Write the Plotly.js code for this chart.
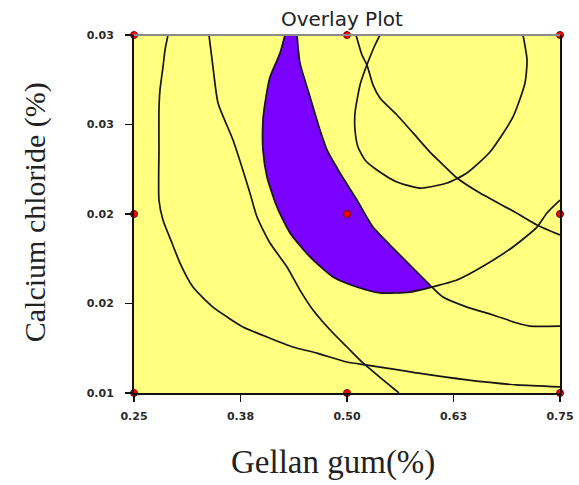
<!DOCTYPE html>
<html>
<head>
<meta charset="utf-8">
<script src="https://cdn.plot.ly/plotly-3.0.1.min.js"></script>
<style>html,body{margin:0;padding:0;background:#fff;}#chart{width:579px;height:485px;}</style>
</head>
<body>
<div id="chart"></div>
<script>
// Axis ticks
const xTickVals = [0.25, 0.375, 0.5, 0.625, 0.75];
const xTickText = ["0.25", "0.38", "0.50", "0.63", "0.75"];
const yTickVals = [0.01, 0.015, 0.02, 0.025, 0.03];
const yTickText = ["0.01", "0.02", "0.02", "0.03", "0.03"];

// Design points (Gellan gum %, Calcium chloride %)
const designX = [0.25, 0.5, 0.75, 0.25, 0.5, 0.75, 0.25, 0.5, 0.75];
const designY = [0.01, 0.01, 0.01, 0.02, 0.02, 0.02, 0.03, 0.03, 0.03];

// Contour A (leftmost)
const contourAX = [0.2899, 0.2864, 0.2840, 0.2805, 0.2793, 0.2793, 0.2793, 0.2840, 0.2946, 0.3040, 0.3192, 0.3427, 0.3592, 0.3779, 0.4061, 0.4366, 0.4648, 0.5000, 0.5235, 0.5622, 0.5822, 0.6408, 0.6995, 0.7500];
const contourAY = [0.03000, 0.02916, 0.02821, 0.02693, 0.02581, 0.02358, 0.02078, 0.01966, 0.01838, 0.01726, 0.01592, 0.01480, 0.01425, 0.01369, 0.01313, 0.01257, 0.01223, 0.01173, 0.01156, 0.01128, 0.01112, 0.01073, 0.01045, 0.01034];

// Contour B
const contourBX = [0.3380, 0.3427, 0.3486, 0.3662, 0.3861, 0.3944, 0.4096, 0.4296, 0.4448, 0.4601, 0.4836, 0.5000, 0.5188, 0.5423, 0.5610];
const contourBY = [0.03000, 0.02821, 0.02620, 0.02413, 0.02117, 0.01983, 0.01838, 0.01704, 0.01575, 0.01464, 0.01335, 0.01257, 0.01168, 0.01073, 0.01000];

// Contour C (right edge of the overlay region, continued)
const contourCX = [0.4413, 0.4448, 0.4566, 0.4683, 0.4765, 0.4918, 0.5117, 0.5305, 0.5505, 0.5739, 0.5998, 0.6127, 0.6408, 0.6714, 0.6995, 0.7148, 0.7500];
const contourCY = [0.03000, 0.02844, 0.02654, 0.02469, 0.02358, 0.02229, 0.02078, 0.01927, 0.01827, 0.01715, 0.01592, 0.01536, 0.01480, 0.01436, 0.01391, 0.01374, 0.01374];

// Contour D (left/bottom edge of the overlay region, continued)
const contourDX = [0.4272, 0.4214, 0.4096, 0.4038, 0.4014, 0.4014, 0.4061, 0.4178, 0.4331, 0.4566, 0.4836, 0.5117, 0.5387, 0.5739, 0.5998, 0.6291, 0.6561, 0.6948, 0.7230, 0.7347, 0.7500];
const contourDY = [0.03000, 0.02899, 0.02765, 0.02620, 0.02525, 0.02358, 0.02207, 0.02039, 0.01894, 0.01760, 0.01648, 0.01592, 0.01559, 0.01564, 0.01592, 0.01631, 0.01698, 0.01816, 0.01927, 0.02006, 0.02078];
const cornerIndexD = 14; // index where D meets C
const cornerIndexC = 10;

// Contour E
const contourEX = [0.5106, 0.5176, 0.5235, 0.5305, 0.5387, 0.5587, 0.5775, 0.5974, 0.6092, 0.6291, 0.6561, 0.6948, 0.7230, 0.7500];
const contourEY = [0.03000, 0.02888, 0.02832, 0.02721, 0.02648, 0.02553, 0.02453, 0.02346, 0.02291, 0.02201, 0.02117, 0.02017, 0.01939, 0.01883];

// Contour F (U-shaped)
const contourFX = [0.5387, 0.5329, 0.5270, 0.5211, 0.5153, 0.5094, 0.5094, 0.5129, 0.5211, 0.5352, 0.5587, 0.5857, 0.6174, 0.6408, 0.6678, 0.6948, 0.7089, 0.7113, 0.7066];
const contourFY = [0.03000, 0.02944, 0.02877, 0.02804, 0.02721, 0.02564, 0.02469, 0.02374, 0.02302, 0.02246, 0.02179, 0.02145, 0.02173, 0.02229, 0.02346, 0.02542, 0.02732, 0.02860, 0.03000];

// Overlay (sweet spot) region built from D and C
const regionX = contourDX.slice(0, cornerIndexD + 1).concat(contourCX.slice(0, cornerIndexC + 1).reverse());
const regionY = contourDY.slice(0, cornerIndexD + 1).concat(contourCY.slice(0, cornerIndexC + 1).reverse());

const lineStyle = {color: '#161616', width: 1.7, shape: 'spline', smoothing: 0.6};
function contour(x, y) {
  return {x: x, y: y, type: 'scatter', mode: 'lines', line: lineStyle, hoverinfo: 'skip', showlegend: false};
}

const traces = [
  {x: regionX, y: regionY, type: 'scatter', mode: 'lines', fill: 'toself', fillcolor: '#7a00ff', line: {color: '#7a00ff', width: 0.5, shape: 'spline', smoothing: 0.6}, showlegend: false, hoverinfo: 'skip'},
  contour(contourAX, contourAY),
  contour(contourBX, contourBY),
  contour(contourCX, contourCY),
  contour(contourDX, contourDY),
  contour(contourEX, contourEY),
  contour(contourFX, contourFY),
  {x: designX, y: designY, type: 'scatter', mode: 'markers', marker: {color: '#ff0000', size: 7, line: {color: '#7a0000', width: 1}}, cliponaxis: false, showlegend: false}
];

const tickFont = {family: 'DejaVu Sans, Arial, sans-serif', size: 11, color: '#2a2a2a', weight: 'bold'};
const layout = {
  width: 579, height: 485,
  margin: {l: 134, r: 19, t: 35, b: 92, pad: 0},
  paper_bgcolor: '#ffffff',
  plot_bgcolor: '#ffff80',
  showlegend: false,
  title: {text: 'Overlay Plot', font: {family: 'DejaVu Sans, Arial, sans-serif', size: 20, color: '#222'}, x: 0.488, xref: 'paper', xanchor: 'center', y: 0.96, yref: 'container', yanchor: 'middle'},
  xaxis: {
    range: [0.25, 0.75], tickvals: xTickVals, ticktext: xTickText,
    ticks: 'outside', ticklen: 7, tickwidth: 1.5, tickcolor: '#111',
    showline: true, linecolor: '#111', linewidth: 2, mirror: false,
    showgrid: false, zeroline: false, tickfont: tickFont, ticklabelstandoff: 5
  },
  yaxis: {
    range: [0.01, 0.03], tickvals: yTickVals, ticktext: yTickText,
    ticks: 'outside', ticklen: 7, tickwidth: 1.5, tickcolor: '#111',
    showline: true, linecolor: '#111', linewidth: 2, mirror: true,
    showgrid: false, zeroline: false, tickfont: tickFont, ticklabelstandoff: 9
  },
  shapes: [
    {type: 'line', xref: 'paper', yref: 'paper', x0: 0, x1: 1, y0: 1, y1: 1, line: {color: '#8a8a8a', width: 2}, layer: 'above'}
  ],
  annotations: [
    {text: 'Gellan gum(%)', xref: 'paper', yref: 'paper', x: 0.467, y: -0.1955, xanchor: 'center', yanchor: 'middle', showarrow: false, font: {family: 'Liberation Serif, Times New Roman, serif', size: 33, color: '#222'}},
    {text: 'Calcium chloride (%)', xref: 'paper', yref: 'paper', x: -0.2324, y: 0.505, xanchor: 'center', yanchor: 'middle', textangle: -90, showarrow: false, font: {family: 'Liberation Serif, Times New Roman, serif', size: 30, color: '#222'}}
  ]
};

Plotly.newPlot('chart', traces, layout, {displayModeBar: false, staticPlot: true});
</script>
</body>
</html>
